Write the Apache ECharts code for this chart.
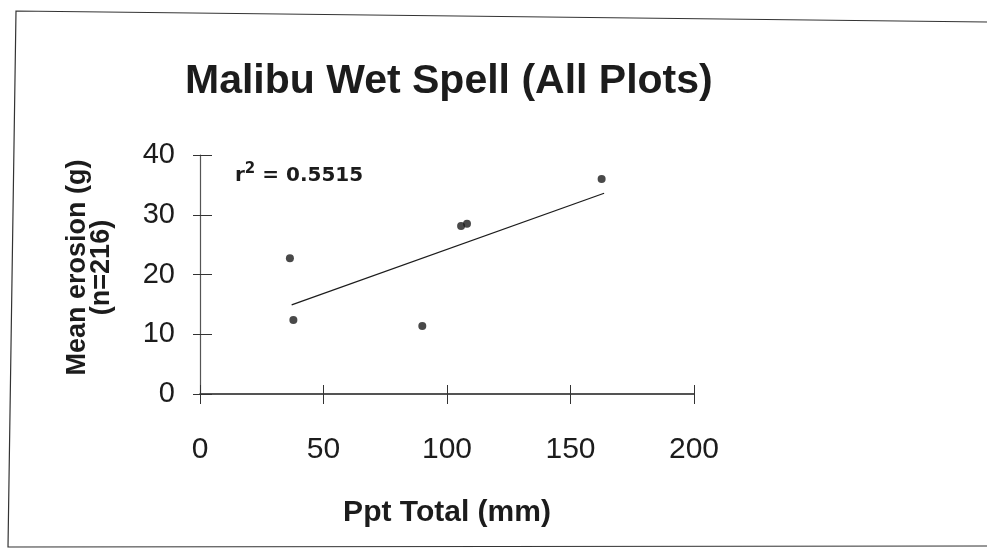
<!DOCTYPE html>
<html>
<head>
<meta charset="utf-8">
<script src="https://cdn.jsdelivr.net/npm/echarts@6/dist/echarts.min.js"></script>
<style>
html,body{margin:0;padding:0;background:#fff;}
#chart{width:987px;height:552px;}
</style>
</head>
<body>
<div id="chart"></div>
<script>
// ---- data ----
const chartTitle = 'Malibu Wet Spell (All Plots)';
const xAxisName = 'Ppt Total (mm)';
const yAxisName = 'Mean erosion (g)\n(n=216)';
const pptTotal = [36.4, 37.8, 90.0, 105.7, 108.1, 162.6];
const meanErosion = [22.7, 12.4, 11.4, 28.1, 28.5, 36.0];
const trendX = [37.1, 163.6];
const trendY = [14.9, 33.6];
const rSquared = '0.5515';
const xTicks = {min: 0, max: 200, interval: 50};
const yTicks = {min: 0, max: 40, interval: 10};

const scatterData = pptTotal.map((x, i) => [x, meanErosion[i]]);
const trendData = trendX.map((x, i) => [x, trendY[i]]);

const chart = echarts.init(document.getElementById('chart'), null, {renderer: 'canvas'});
const ink = '#1c1c1c';
const baseFont = '"Liberation Sans", Arial, sans-serif';

const xBase = {
  type: 'value', min: xTicks.min, max: xTicks.max, interval: xTicks.interval,
  position: 'bottom', splitLine: {show: false}
};
const yBase = {
  type: 'value', min: yTicks.min, max: yTicks.max, interval: yTicks.interval,
  position: 'left', splitLine: {show: false}
};

chart.setOption({
  backgroundColor: '#ffffff',
  animation: false,
  title: [{
    text: chartTitle,
    left: 185, top: 61, padding: 0,
    textStyle: {fontFamily: baseFont, fontSize: 41, fontWeight: 'bold', color: ink}
  }, {
    text: '{r|r}{s|2}{r| = ' + rSquared + '}',
    left: 235, top: 162, padding: 0,
    textStyle: {
      rich: {
        r: {fontFamily: '"DejaVu Sans", sans-serif', fontSize: 20, fontWeight: 'bold', color: ink, verticalAlign: 'bottom', lineHeight: 24},
        s: {fontFamily: '"DejaVu Sans", sans-serif', fontSize: 15, fontWeight: 'bold', color: ink, verticalAlign: 'top', lineHeight: 24}
      }
    }
  }],
  grid: {left: 200, right: 293, top: 155, bottom: 158, containLabel: false},
  xAxis: [
    Object.assign({}, xBase, {
      name: xAxisName, nameLocation: 'middle', nameGap: 104,
      nameTextStyle: {fontFamily: baseFont, fontSize: 30, fontWeight: 'bold', color: ink},
      axisLine: {show: true, onZero: false, lineStyle: {color: ink, width: 1.5}},
      axisTick: {show: true, inside: false, length: 10, lineStyle: {color: '#333', width: 1}},
      axisLabel: {fontFamily: baseFont, fontSize: 30, color: ink, margin: 41}
    }),
    Object.assign({}, xBase, {
      axisLine: {show: false},
      axisTick: {show: true, inside: true, length: 9, lineStyle: {color: '#333', width: 1}},
      axisLabel: {show: false}
    })
  ],
  yAxis: [
    Object.assign({}, yBase, {
      name: yAxisName, nameLocation: 'middle', nameGap: 86, nameRotate: 90,
      nameTextStyle: {fontFamily: baseFont, fontSize: 27, fontWeight: 'bold', color: ink, lineHeight: 24, padding: [0, 0, 0, 14]},
      axisLine: {show: true, onZero: false, lineStyle: {color: '#555', width: 1.2}},
      axisTick: {show: true, inside: false, length: 7, lineStyle: {color: '#333', width: 1}},
      axisLabel: {fontFamily: baseFont, fontSize: 29, color: ink, margin: 25}
    }),
    Object.assign({}, yBase, {
      axisLine: {show: false},
      axisTick: {show: true, inside: true, length: 12, lineStyle: {color: '#333', width: 1}},
      axisLabel: {show: false}
    })
  ],
  graphic: [{
    type: 'polyline', silent: true,
    shape: {points: [[987, 22], [16, 11], [8, 547], [987, 546]]},
    style: {stroke: '#333', lineWidth: 1.2, fill: null}
  }],
  series: [{
    type: 'scatter', xAxisIndex: 0, yAxisIndex: 0,
    data: scatterData, symbol: 'circle', symbolSize: 8,
    itemStyle: {color: ink}
  }, {
    type: 'line', xAxisIndex: 0, yAxisIndex: 0,
    data: trendData, symbol: 'none',
    lineStyle: {color: ink, width: 1.3}
  }]
});
</script>
</body>
</html>
